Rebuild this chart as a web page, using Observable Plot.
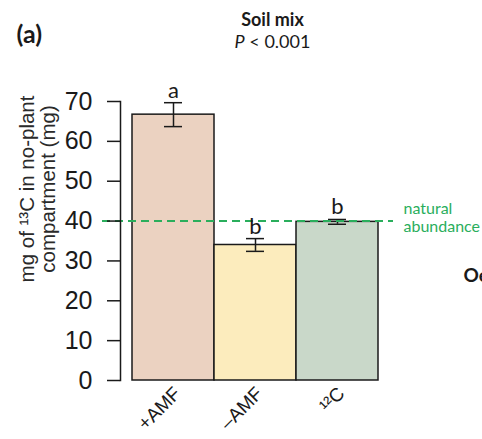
<!DOCTYPE html>
<html>
<head>
<meta charset="utf-8">
<script src="https://cdn.jsdelivr.net/npm/d3@7"></script>
<script src="https://cdn.jsdelivr.net/npm/@observablehq/plot@0.6"></script>
<style>
  html, body { margin: 0; padding: 0; background: white; overflow: hidden; }
</style>
</head>
<body>
<div id="chart"></div>
<script>
const categories = ["+AMF", "\u2013AMF", "\u00b9\u00b2C"];
const means = [66.7, 34.0, 39.8];
const errors = [3.0, 1.6, 0.6];
const letters = ["a", "b", "b"];
const barColors = ["#ebd2c1", "#fcecbd", "#c9d8c9"];
const yTicks = [0, 10, 20, 30, 40, 50, 60, 70];
const naturalAbundance = 40;
const panelTitle = "Soil mix";
const pValue = "P < 0.001";
const yLabel = "mg of \u00b9\u00b3C in no-plant\ncompartment (mg)";

const data = categories.map((c, i) => ({
  cat: c, mean: means[i], lo: means[i] - errors[i], hi: means[i] + errors[i],
  letter: letters[i], color: barColors[i]
}));

const W = 482, H = 439;
const ink = "#1a1a1a";
const green = "#2aae5c";

const plot = Plot.plot({
  width: W,
  height: H,
  marginTop: 101,
  marginBottom: 59,
  marginLeft: 120,
  marginRight: 89,
  style: { fontFamily: "'Liberation Sans', Arial, sans-serif", background: "white", overflow: "hidden" },
  x: { domain: categories, range: [131, 379], padding: 0 },
  y: { domain: [0, 70] },
  color: { type: "identity" },
  marks: [
    Plot.barY(data, { x: "cat", y: "mean", fill: "color", stroke: ink, strokeWidth: 1.5 }),
    Plot.ruleX(data, { x: "cat", y1: "lo", y2: "hi", stroke: ink, strokeWidth: 1.5 }),
    Plot.tickY(data, { x: "cat", y: "lo", stroke: ink, strokeWidth: 1.5, insetLeft: 32, insetRight: 32 }),
    Plot.tickY(data, { x: "cat", y: "hi", stroke: ink, strokeWidth: 1.5, insetLeft: 32, insetRight: 32 }),
    Plot.ruleY([naturalAbundance], { stroke: green, strokeWidth: 2, strokeDasharray: "8,5", insetLeft: -18 }),
    Plot.text(data, { x: "cat", y: "hi", text: "letter", lineAnchor: "bottom", dy: -5, fontSize: 22, fontFamily: "Lato, sans-serif", fill: ink }),
    Plot.text(["natural\nabundance"], { frameAnchor: "right", y: [naturalAbundance], text: d => d, dx: 10, dy: -4, textAnchor: "start", lineAnchor: "middle", lineHeight: 1.15, fontSize: 16, fontFamily: "Lato, sans-serif", fill: green }),
    Plot.axisY({ ticks: yTicks, tickSize: 13, tickPadding: 15, fontSize: 25, stroke: ink, strokeWidth: 1.5, color: ink, label: null }),
    Plot.frame({ anchor: "left", stroke: ink, strokeWidth: 1.5 }),
    Plot.axisX({ tickSize: 0, tickPadding: 10, tickRotate: -45, fontSize: 19, dx: 4, color: ink, label: null }),
    Plot.text([yLabel], { frameAnchor: "left", text: d => d, rotate: -90, dx: -83, dy: -52, lineAnchor: "middle", textAnchor: "middle", lineHeight: 1.05, fontSize: 20.5, fill: "#2a2a2a" }),
    Plot.text([panelTitle], { frameAnchor: "top-left", text: d => d, dx: 272 - 120, dy: -101 + 25, textAnchor: "middle", lineAnchor: "bottom", fontSize: 18, fontWeight: "bold", fontFamily: "Lato, sans-serif", fill: ink }),
    Plot.text([pValue], { frameAnchor: "top-left", text: d => d, dx: 272 - 120, dy: -101 + 47, textAnchor: "middle", lineAnchor: "bottom", fontSize: 18, fontFamily: "Lato, sans-serif", fill: ink }),
    Plot.text(["(a)"], { frameAnchor: "top-left", text: d => d, dx: 16 - 120, dy: -101 + 42, textAnchor: "start", lineAnchor: "bottom", fontSize: 25, fontWeight: "bold", fontFamily: "Lato, sans-serif", fill: ink }),
    Plot.text(["Oe"], { frameAnchor: "top-left", text: d => d, dx: 463 - 120, dy: -101 + 281, textAnchor: "start", lineAnchor: "bottom", fontSize: 19, fontWeight: "bold", fontFamily: "Lato, sans-serif", fill: ink })
  ]
});

// italic P in the p-value line
d3.select(plot).selectAll("text").filter(function() { return this.textContent === pValue; }).each(function() {
  const t = d3.select(this);
  t.text(null);
  t.append("tspan").attr("font-style", "italic").text("P");
  t.append("tspan").text(" < 0.001");
});

document.getElementById("chart").appendChild(plot);
</script>
</body>
</html>
